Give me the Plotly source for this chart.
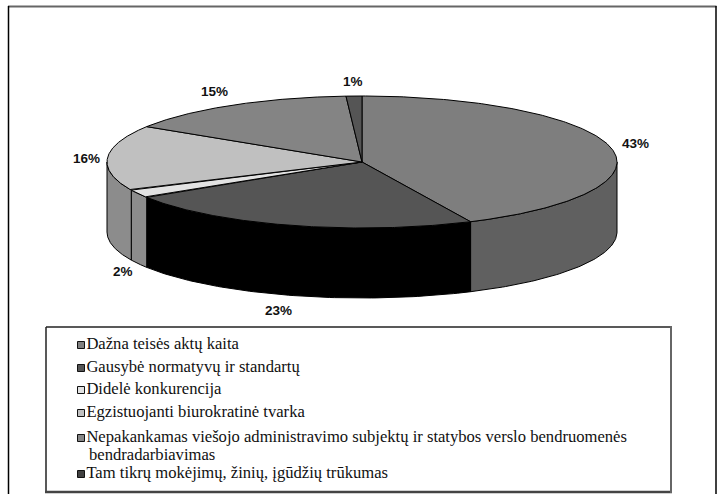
import numpy as np
import plotly.graph_objects as go

categories = ["Dažna teisės aktų kaita", "Gausybė normatyvų ir standartų", "Didelė konkurencija",
              "Egzistuojanti biurokratinė tvarka",
              "Nepakankamas viešojo administravimo subjektų ir statybos verslo bendruomenės",
              "Tam tikrų mokėjimų, žinių, įgūdžių trūkumas"]
wrapped_line = "bendradarbiavimas"
values = [43, 23, 2, 16, 15, 1]
top_colors = ["#7e7e7e", "#555555", "#e2e2e2", "#c0c0c0", "#848484", "#555555"]
side_colors = ["#606060", "#000000", "#8c8c8c", "#8c8c8c", "#868686", "#555555"]
legend_colors = ["#808080", "#555555", "#e2e2e2", "#c0c0c0", "#868686", "#404040"]

# layout
W, H = 717, 494
cx, cy, rx, ry, depth = 362, 162, 255, 66, 70
label_xy = [(635, 143), (278, 310), (123, 271), (86, 158), (214, 91), (353, 81)]
legend_y = [345, 368, 390, 413, 438, 474]
legend_x = 81
SERIF = "Liberation Serif"
SANS = "Liberation Sans"


def pt(theta, dy=0.0):
    return cx + rx * np.sin(theta), cy - ry * np.cos(theta) + dy


fig = go.Figure()
edges = 2 * np.pi * np.concatenate([[0], np.cumsum(values)]) / sum(values)

# side walls (front half only)
for i, v in enumerate(values):
    a, b = max(edges[i], np.pi / 2), min(edges[i + 1], 3 * np.pi / 2)
    if b <= a:
        continue
    t = np.linspace(a, b, 80)
    x0, y0 = pt(t)
    x1, y1 = pt(t[::-1], depth)
    fig.add_trace(go.Scatter(x=np.r_[x0, x1, x0[0]], y=np.r_[y0, y1, y0[0]], mode="lines", fill="toself",
                             fillcolor=side_colors[i], line=dict(color="#000000", width=1),
                             showlegend=False, hoverinfo="skip"))
# top faces
for i, v in enumerate(values):
    t = np.linspace(edges[i], edges[i + 1], 200)
    x0, y0 = pt(t)
    fig.add_trace(go.Scatter(x=np.r_[cx, x0, cx], y=np.r_[cy, y0, cy], mode="lines", fill="toself",
                             fillcolor=top_colors[i], line=dict(color="#000000", width=1),
                             name=f"{values[i]}%", showlegend=False))

annotations = []
for (lx, ly), v in zip(label_xy, values):
    annotations.append(dict(x=lx, y=ly, xref="x", yref="y", text=f"<b>{v}%</b>", showarrow=False,
                            font=dict(family=SANS, size=13.5, color="#111111")))

# key rows: swatch with its text
for i, c in enumerate(categories):
    fig.add_trace(go.Scatter(x=[legend_x], y=[legend_y[i]], mode="markers+text", name=c, text=[c],
                             textposition="middle right", showlegend=False, hoverinfo="name",
                             textfont=dict(family=SERIF, size=16.6, color="#111111"),
                             marker=dict(symbol="square", size=7, color=legend_colors[i],
                                         line=dict(color="#111111", width=1))))
annotations.append(dict(x=87, y=454, xref="x", yref="y", xanchor="left", text=wrapped_line, showarrow=False,
                        font=dict(family=SERIF, size=16.6, color="#111111")))


def seg(x0, y0, x1, y1, color, width):
    return dict(type="line", x0=x0, y0=y0, x1=x1, y1=y1, line=dict(color=color, width=width), layer="below")


shapes = [
    # outer frame, running off the bottom of the picture
    seg(8, 6.5, 716.5, 6.5, "#666666", 2),
    seg(8.5, 6, 8.5, H + 4, "#000000", 1.5),
    seg(716, 6, 716, H + 4, "#000000", 1.5),
    # key box
    seg(46, 327, 672, 327, "#222222", 1.5),
    seg(46, 327, 46, 492, "#222222", 1.5),
    seg(45, 492, 672, 492, "#444444", 2.5),
    seg(671, 326, 671, 493, "#666666", 2),
]

fig.update_layout(width=W, height=H, margin=dict(l=0, r=0, t=0, b=0), paper_bgcolor="white", plot_bgcolor="white",
                  showlegend=False,
                  xaxis=dict(range=[0, W], visible=False, domain=[0, 1], fixedrange=True),
                  yaxis=dict(range=[H, 0], visible=False, domain=[0, 1], fixedrange=True),
                  shapes=shapes, annotations=annotations)
fig.write_html("out.html", config=dict(displayModeBar=False),
               post_script="document.body.style.margin='0';document.documentElement.style.overflow='hidden';")
